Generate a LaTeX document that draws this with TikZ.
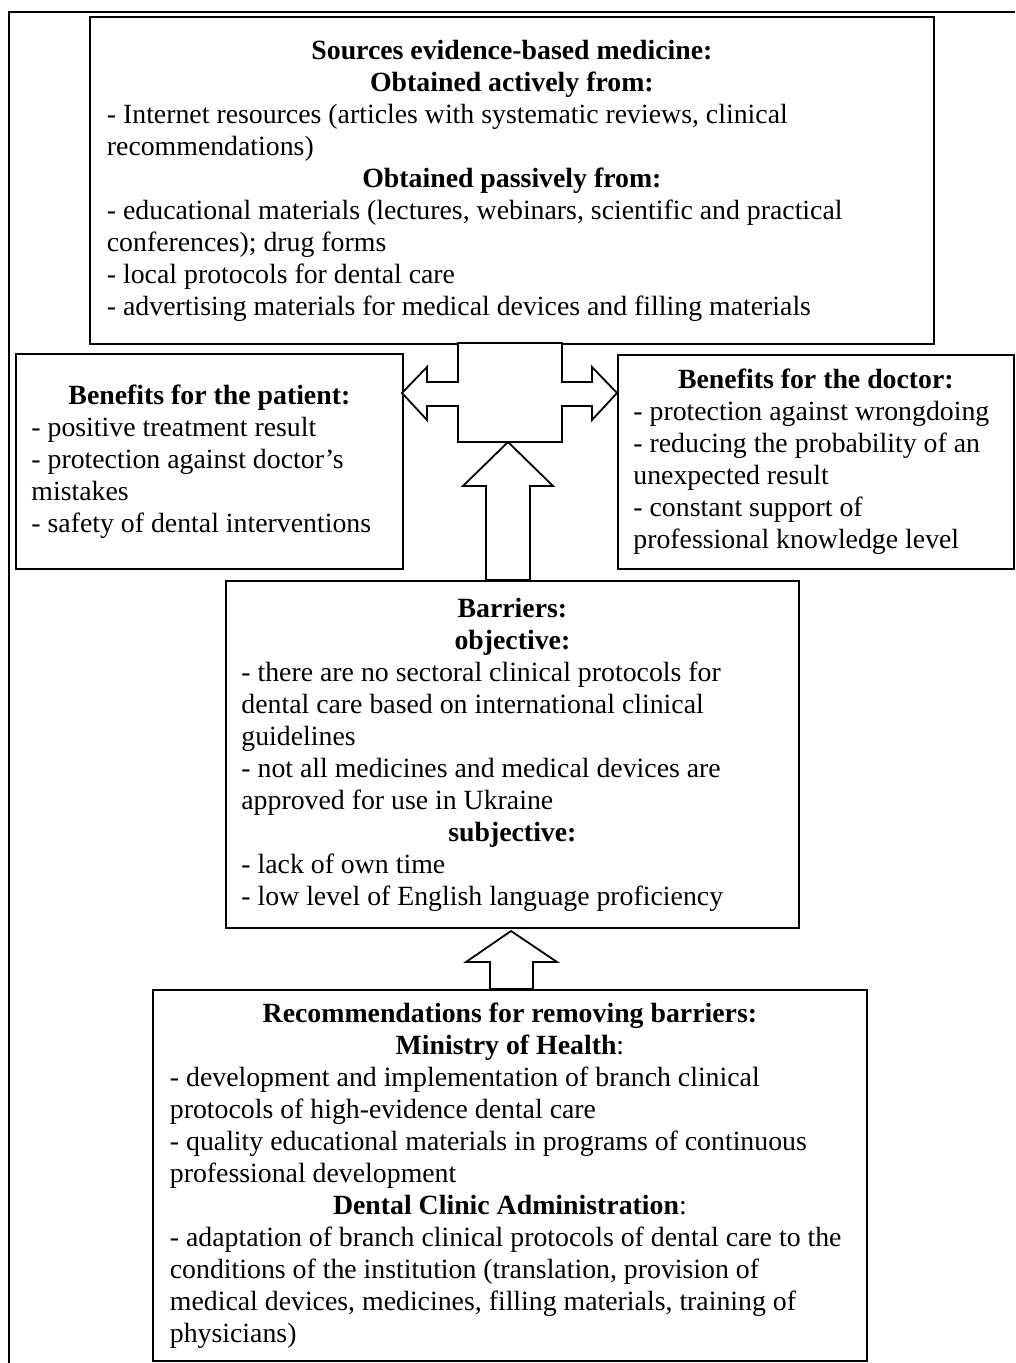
\documentclass[tikz,border=0pt]{standalone}
\usepackage{fontspec}
\setmainfont{Liberation Serif}
\newcommand\hwidth{100pt}
\newcommand\hdline[1]{\makebox[\hwidth][c]{#1}}
\begin{document}
\begin{tikzpicture}[x=1pt,y=-1pt,
  box/.style={draw, line width=1.8pt, inner xsep=8pt, inner ysep=0pt,
    align=left, anchor=north west,
    font=\fontsize{27.8}{32}\selectfont},
  hw/.style={execute at begin node={\renewcommand\hwidth{#1}}},
  blockarrow/.style={draw, fill=white, line width=1.8pt, line join=miter},
  frame/.style={draw, line width=1.3pt}]
\useasboundingbox (0,0) rectangle (1015,1363);
\fill[white] (0,0) rectangle (1015,1363);
% outer frame
\coordinate (fbl) at (9,1363);
\coordinate (ftl) at (9,12);
\coordinate (ftr) at (1015,12);
\draw[frame] (fbl) -- (ftl) -- (ftr);

% top box
\node[box, hw=810pt, minimum width=844pt, minimum height=327pt] (top) at (89,16) {%
\hdline{\textbf{Sources evidence-based medicine:}}\\
\hdline{\textbf{Obtained actively from:}}\\
- Internet resources (articles with systematic reviews, clinical\\
recommendations)\\
\hdline{\textbf{Obtained passively from:}}\\
- educational materials (lectures, webinars, scientific and practical\\
conferences); drug forms\\
- local protocols for dental care\\
- advertising materials for medical devices and filling materials};

% patient box
\node[box, hw=356pt, minimum width=387pt, minimum height=215pt] (patient) at (15,353) {%
\hdline{\textbf{Benefits for the patient:}}\\
- positive treatment result\\
- protection against doctor's\\
mistakes\\
- safety of dental interventions};

% doctor box
\node[box, hw=365pt, minimum width=396pt, minimum height=214pt] (doctor) at (617,354) {%
\hdline{\textbf{Benefits for the doctor:}}\\
- protection against wrongdoing\\
- reducing the probability of an\\
unexpected result\\
- constant support of\\
professional knowledge level};

% barriers box
\node[box, hw=542pt, minimum width=573pt, minimum height=347pt] (barriers) at (225,580) {%
\hdline{\textbf{Barriers:}}\\
\hdline{\textbf{objective:}}\\
- there are no sectoral clinical protocols for\\
dental care based on international clinical\\
guidelines\\
- not all medicines and medical devices are\\
approved for use in Ukraine\\
\hdline{\textbf{subjective:}}\\
- lack of own time\\
- low level of English language proficiency};

% recommendations box
\node[box, hw=680pt, minimum width=714pt, minimum height=371pt] (recs) at (152,989) {%
\hdline{\textbf{Recommendations for removing barriers:}}\\
\hdline{\textbf{Ministry of Health}:}\\
- development and implementation of branch clinical\\
protocols of high-evidence dental care\\
- quality educational materials in programs of continuous\\
professional development\\
\hdline{\textbf{Dental Clinic Administration}:}\\
- adaptation of branch clinical protocols of dental care to the\\
conditions of the institution (translation, provision of\\
medical devices, medicines, filling materials, training of\\
physicians)};

% cross-shaped double arrow between top box and benefit boxes
\draw[blockarrow] (458,343) -- (458,382) -- (427,382) -- (427,367) -- (402,393)
  -- (427,420) -- (427,406) -- (458,406) -- (458,442) -- (562,442) -- (562,406)
  -- (592,406) -- (592,420) -- (617,393) -- (592,367) -- (592,382) -- (562,382)
  -- (562,343) -- cycle;

% up arrow from barriers to the cross
\draw[blockarrow] (486,580) -- (486,486) -- (463,486) -- (508,442) -- (553,486)
  -- (530,486) -- (530,580) -- cycle;

% up arrow from recommendations to barriers
\draw[blockarrow] (490,989) -- (490,962) -- (466,962) -- (511,931) -- (557,962)
  -- (533,962) -- (533,989) -- cycle;
\end{tikzpicture}
\end{document}
